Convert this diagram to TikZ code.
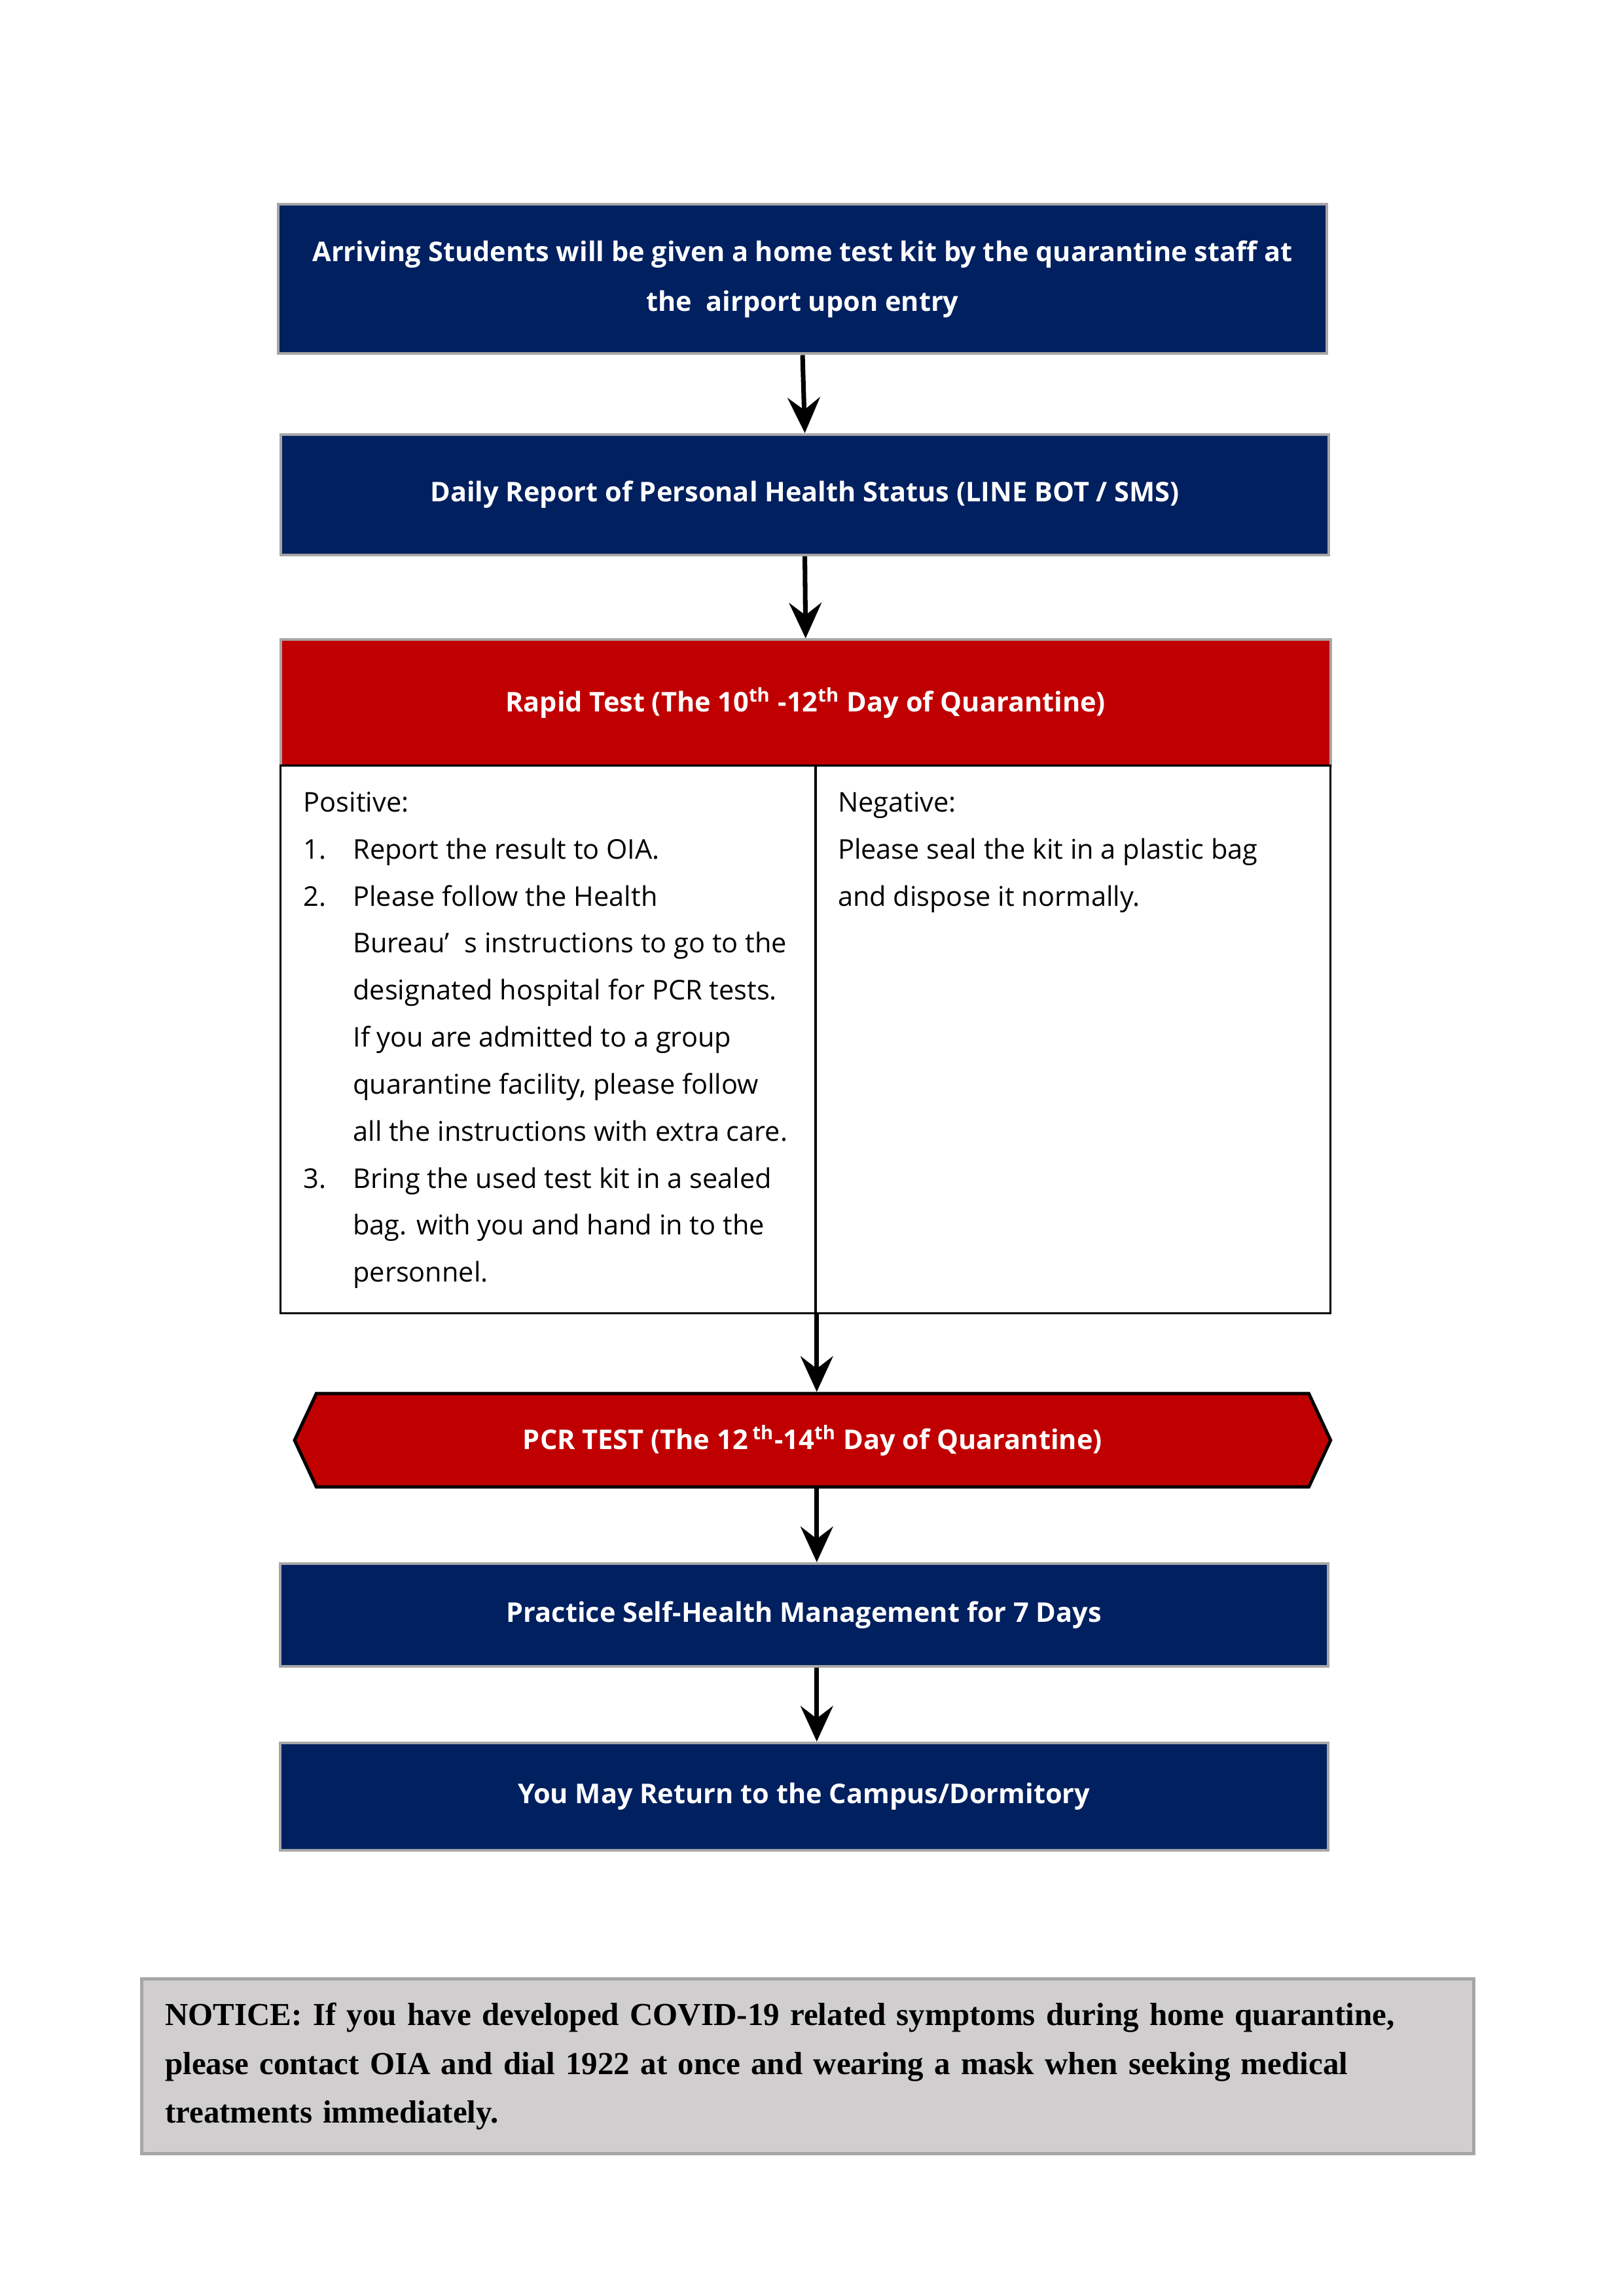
\documentclass[tikz,border=0pt]{standalone}
\usepackage{fontspec}
\setmainfont{Open Sans}
\newfontfamily\noticefont{Liberation Serif}
\usetikzlibrary{arrows.meta,shapes.symbols}

\definecolor{navy}{HTML}{002060}
\definecolor{darkred}{HTML}{C00000}
\definecolor{framegray}{HTML}{A6A6A6}
\definecolor{noticegray}{HTML}{D0CECE}

\begin{document}
\begin{tikzpicture}[
  every node/.style={font=\fontsize{10}{17.3}\selectfont},
  navybox/.style={draw=framegray, line width=1pt, fill=navy, text=white,
    font=\fontsize{10}{18.2}\selectfont\bfseries, align=center,
    minimum width=13.56cm, inner sep=0pt},
  redbox/.style={navybox, fill=darkred},
  resultbox/.style={draw=black, line width=0.8pt, inner sep=0pt},
  bodytext/.style={anchor=north west, inner sep=0pt, align=left},
  flow/.style={line width=1.7pt, -{Stealth[length=4.6mm,width=4.2mm,inset=1.6mm]}}]
\useasboundingbox (0,0) rectangle (21,-29.7);

% main steps
\node[navybox, minimum height=1.93cm] (arrive) at (10.38,-3.61)
  {Arriving Students will be given a home test kit by the quarantine staff at\\
   the\ \ airport upon entry};
\node[navybox, minimum height=1.56cm] (daily) at (10.41,-6.40)
  {Daily Report of Personal Health Status (LINE BOT / SMS)};
\node[redbox, minimum height=1.63cm, minimum width=13.58cm] (rapid) at (10.42,-9.09)
  {Rapid Test (The 10\textsuperscript{th} -12\textsuperscript{th} Day of Quarantine)};

% results
\node[resultbox, minimum width=6.92cm, minimum height=7.09cm] (pos) at (7.09,-13.445) {};
\node[resultbox, minimum width=6.66cm, minimum height=7.09cm] (neg) at (13.88,-13.445) {};
\node[bodytext] (postext) at (3.92,-10.07) {%
  \begin{tabular}{@{}p{0.64cm}@{}l@{}}
  \multicolumn{2}{@{}l@{}}{Positive:}\\
  1. & Report the result to OIA.\\
  2. & Please follow the Health\\
     & Bureau’\hspace{0.55em}s instructions to go to the\\
     & designated hospital for PCR tests.\\
     & If you are admitted to a group\\
     & quarantine facility, please follow\\
     & all the instructions with extra care.\\
  3. & Bring the used test kit in a sealed\\
     & bag. with you and hand in to the\\
     & personnel.
  \end{tabular}};
\node[bodytext] (negtext) at (10.83,-10.07) {%
  \begin{tabular}{@{}l@{}}
  Negative:\\
  Please seal the kit in a plastic bag\\
  and dispose it normally.
  \end{tabular}};

\node[redbox, draw=black, line width=1.2pt, signal, signal to=west and east,
  signal pointer angle=130, minimum width=13.4cm, minimum height=1.21cm] (pcr) at (10.51,-18.63)
  {PCR TEST (The 12\,\textsuperscript{th}-14\textsuperscript{th} Day of Quarantine)};
\node[navybox, minimum height=1.33cm] (selfcare) at (10.40,-20.89)
  {Practice Self-Health Management for 7 Days};
\node[navybox, minimum height=1.39cm] (campus) at (10.40,-23.24)
  {You May Return to the Campus/Dormitory};

% notice
\node[draw=framegray, line width=1.2pt, fill=noticegray, minimum width=17.23cm,
  minimum height=2.26cm, text width=16.63cm, inner sep=0.3cm, align=left,
  font=\noticefont\bfseries\fontsize{11.8}{18}\selectfont] (notice) at (10.45,-26.73)
  {NOTICE: If you have developed COVID-19 related symptoms during home quarantine,\\
   please contact OIA and dial 1922 at once and wearing a mask when seeking medical\\
   treatments immediately.};

\draw[flow] (arrive.south) -- (daily.north);
\draw[flow] (daily.south) -- (rapid.north);
\draw[flow] (pos.south east) -- (pos.south east |- pcr.north);
\draw[flow] (pcr.south -| pos.south east) -- (selfcare.north -| pos.south east);
\draw[flow] (selfcare.south -| pos.south east) -- (campus.north -| pos.south east);
\end{tikzpicture}
\end{document}
